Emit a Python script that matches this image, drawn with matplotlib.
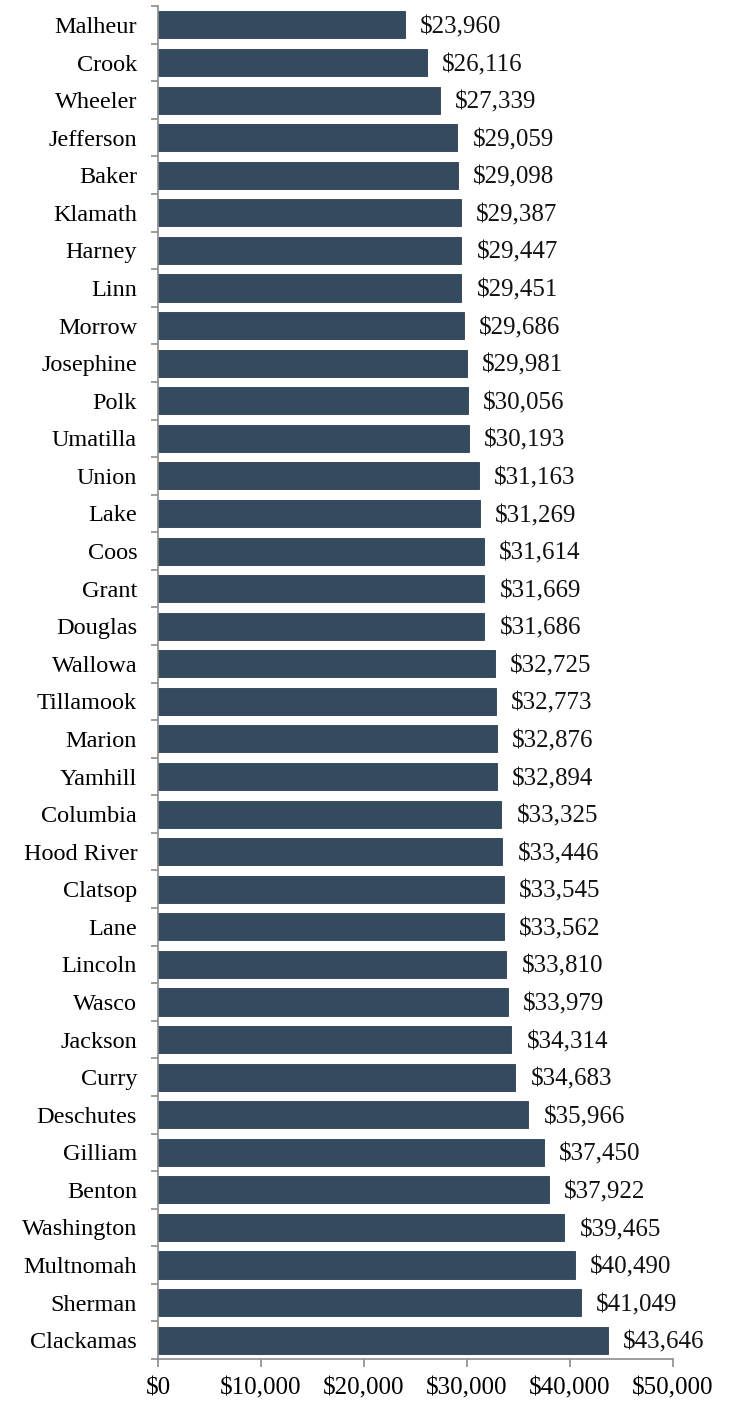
import matplotlib.pyplot as plt
from matplotlib.ticker import FuncFormatter

counties = ['Malheur', 'Crook', 'Wheeler', 'Jefferson', 'Baker', 'Klamath', 'Harney', 'Linn',
            'Morrow', 'Josephine', 'Polk', 'Umatilla', 'Union', 'Lake', 'Coos', 'Grant',
            'Douglas', 'Wallowa', 'Tillamook', 'Marion', 'Yamhill', 'Columbia', 'Hood River',
            'Clatsop', 'Lane', 'Lincoln', 'Wasco', 'Jackson', 'Curry', 'Deschutes', 'Gilliam',
            'Benton', 'Washington', 'Multnomah', 'Sherman', 'Clackamas']
income = [23960, 26116, 27339, 29059, 29098, 29387, 29447, 29451,
          29686, 29981, 30056, 30193, 31163, 31269, 31614, 31669,
          31686, 32725, 32773, 32876, 32894, 33325, 33446,
          33545, 33562, 33810, 33979, 34314, 34683, 35966, 37450,
          37922, 39465, 40490, 41049, 43646]
x_ticks = [0, 10000, 20000, 30000, 40000, 50000]

bar_color = '#344a5f'
axis_color = '#8c8c8c'

plt.rcParams['font.family'] = ['Liberation Serif', 'DejaVu Serif']

fig = plt.figure(figsize=(7.32, 14.01), dpi=100)
ax = fig.add_axes([0.2158, 0.030, 0.7036, 0.9656])

pos = list(range(len(counties)))
ax.barh(pos, income, height=0.72, color=bar_color, edgecolor='#2a3d4f', linewidth=0.6)

for p, v in zip(pos, income):
    ax.annotate('${:,}'.format(v), (v, p), xytext=(11, 0), textcoords='offset points',
                va='center_baseline', ha='left', fontsize=18, color='#111111')

ax.set_xlim(0, 50000)
ax.set_ylim(len(counties) - 0.5, -0.5)
ax.set_xticks(x_ticks)
ax.xaxis.set_major_formatter(FuncFormatter(lambda v, _: '${:,.0f}'.format(v)))

# category labels centred on bars, tick marks between categories
ax.set_yticks(pos)
ax.set_yticklabels(counties)
ax.set_yticks([p - 0.5 for p in pos] + [len(counties) - 0.5], minor=True)
ax.tick_params(axis='y', which='major', length=0, pad=15, labelsize=17.5)
ax.tick_params(axis='y', which='minor', length=5, width=1.2, color=axis_color, direction='out')
ax.tick_params(axis='x', length=6, width=1.2, color=axis_color, pad=7, labelsize=18)

for side in ['top', 'right']:
    ax.spines[side].set_visible(False)
for side in ['left', 'bottom']:
    ax.spines[side].set_color(axis_color)
    ax.spines[side].set_linewidth(1.2)

fig.savefig('out.png', dpi=100)
